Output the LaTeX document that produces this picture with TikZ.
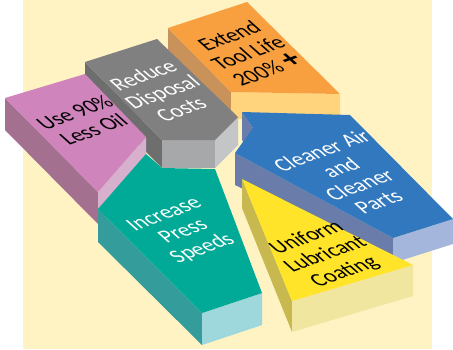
\documentclass[tikz,border=0pt]{standalone}
\usepackage{fontspec}
\setmainfont{Carlito}
\definecolor{bgc}{HTML}{FFF3C4}
\definecolor{pinkT}{HTML}{D084BC}
\definecolor{pinkS}{HTML}{A37090}
\definecolor{pinkF}{HTML}{D6B0CC}
\definecolor{grayT}{HTML}{808080}
\definecolor{grayS}{HTML}{6E6E6E}
\definecolor{grayF}{HTML}{A7A8AA}
\definecolor{grayR}{HTML}{C4C5C7}
\definecolor{orT}{HTML}{F8A040}
\definecolor{orS}{HTML}{C8925A}
\definecolor{orF}{HTML}{FFD47C}
\definecolor{blT}{HTML}{3278BE}
\definecolor{blS}{HTML}{6A7DAA}
\definecolor{blF}{HTML}{A4B6DC}
\definecolor{tlT}{HTML}{00AA96}
\definecolor{tlS}{HTML}{349C9A}
\definecolor{tlF}{HTML}{9ED8DC}
\definecolor{yeT}{HTML}{FFE42A}
\definecolor{yeS}{HTML}{C8B850}
\definecolor{yeF}{HTML}{F0E6A0}
\begin{document}
\begin{tikzpicture}[x=1pt,y=-1pt,
  lbl/.style={cm={1.82,0.66,-1.58,1.42,(0,0)}, align=center,
    font=\fontsize{11}{12}\selectfont, inner sep=0pt}]
\useasboundingbox (0,0) rectangle (453,349);
\fill[bgc] (23,0) rectangle (432,349);
% orange
\fill[orS] (168,28) -- (231,92) -- (231,119) -- (168,55) -- cycle;
\fill[orF] (231,92) -- (340,94) -- (340,121) -- (231,119) -- cycle;
\fill[orT] (168,28) -- (247,2) -- (340,94) -- (231,92) -- cycle;
% gray
\fill[grayS] (85,62) -- (162,140) -- (162,168) -- (85,90) -- cycle;
\fill[grayF] (162,140) -- (215,140) -- (215,168) -- (162,168) -- cycle;
\fill[grayR] (215,140) -- (238,117) -- (238,145) -- (215,168) -- cycle;
\fill[grayT] (85,62) -- (157,39) -- (238,117) -- (215,140) -- (162,140) -- cycle;
% pink
\fill[pinkS] (5,98) -- (98,192) -- (98,224) -- (5,130) -- cycle;
\fill[pinkF] (98,192) -- (146,137) -- (146,169) -- (98,224) -- cycle;
\fill[pinkT] (5,98) -- (85,74) -- (146,137) -- (98,192) -- cycle;
% blue
\fill[blS] (242,112) -- (253,128) -- (253,156) -- (242,140) -- cycle;
\fill[blS] (235,153) -- (393,238) -- (393,263) -- (235,185) -- cycle;
\fill[blF] (393,238) -- (453,219) -- (453,244) -- (393,263) -- cycle;
\fill[blT] (242,112) -- (350,115) -- (453,219) -- (393,238) -- (235,153) -- (253,128) -- cycle;
% teal
\fill[tlS] (98,209) -- (202,313) -- (202,345) -- (98,242) -- cycle;
\fill[tlF] (202,313) -- (262,293) -- (262,325) -- (202,345) -- cycle;
\fill[tlT] (98,209) -- (146,154) -- (162,168) -- (215,169) -- (262,293) -- (202,313) -- cycle;
% yellow
\fill[yeS] (242,179) -- (292,301) -- (292,332) -- (242,208) -- cycle;
\fill[yeF] (292,301) -- (413,265) -- (413,296) -- (292,332) -- cycle;
\fill[yeT] (242,179) -- (413,265) -- (292,301) -- cycle;
% labels
\node[lbl, text=black] (tpink) at (84,121) {Use 90\%\\Less Oil};
\node[lbl, text=white] (tgray) at (162,92) {Reduce\\Disposal\\Costs};
\node[lbl, text=black] (torange) at (248,53) {Extend\\Tool Life\\200\% {\fontsize{15}{12}\selectfont\bfseries +}};
\node[lbl, text=white] (tblue) at (350,176) {Cleaner Air\\and\\Cleaner\\Parts};
\node[lbl, text=white] (tteal) at (184,232) {Increase\\Press\\Speeds};
\node[lbl, text=black] (tyellow) at (326,255) {Uniform\\Lubricant\\Coating};
\end{tikzpicture}
\end{document}
